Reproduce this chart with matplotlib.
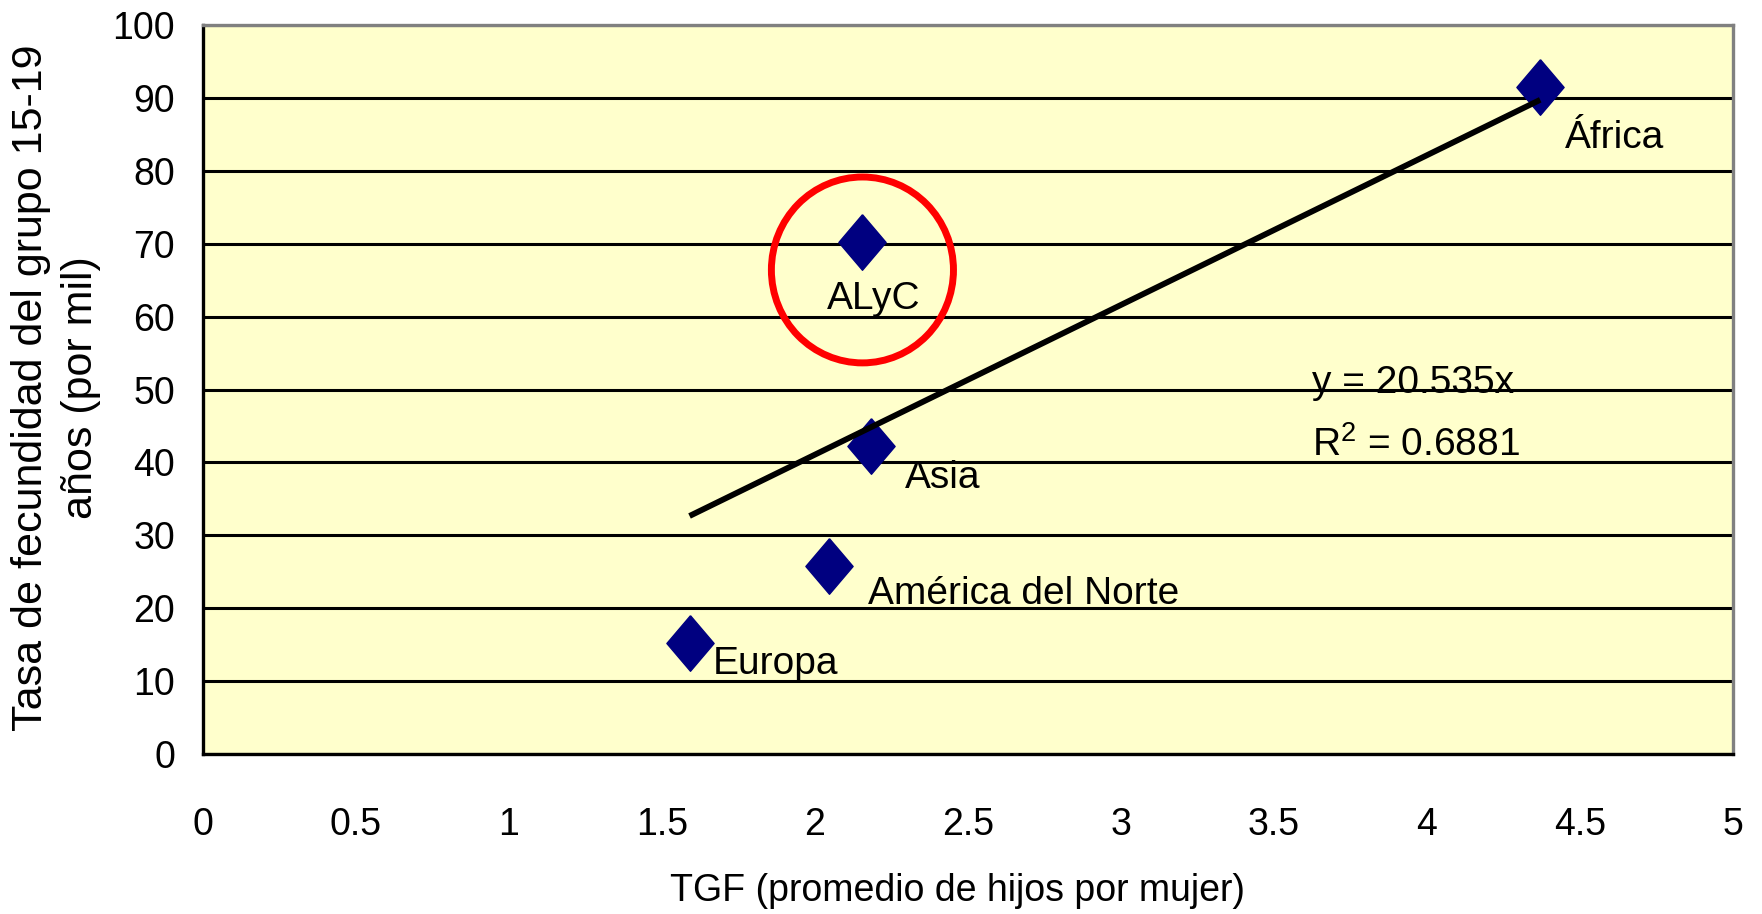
import matplotlib.pyplot as plt
from matplotlib.patches import Ellipse
import numpy as np

# datos: TGF vs tasa de fecundidad 15-19 por region
regiones = ['África', 'ALyC', 'Asia', 'América del Norte', 'Europa']
tgf = [4.37, 2.155, 2.184, 2.045, 1.59]
tasa = [91.5, 70.2, 42.2, 25.8, 15.2]
pendiente = 20.535
r2 = 0.6881
xticks = [0, 0.5, 1, 1.5, 2, 2.5, 3, 3.5, 4, 4.5, 5]
yticks = [0, 10, 20, 30, 40, 50, 60, 70, 80, 90, 100]

plt.rcParams['font.family'] = ['Liberation Sans', 'DejaVu Sans']
fs = 27

fig = plt.figure(figsize=(17.62, 9.14), dpi=100)
ax = fig.add_axes([203/1762, 1-754/914, 1530/1762, 729/914])
ax.set_facecolor('#FFFFCC')

# rombos
diamante = [(0, 1), (0.85, 0), (0, -1), (-0.85, 0), (0, 1)]
ax.plot(tgf, tasa, linestyle='none', marker=diamante, markersize=40,
        color='#000080', zorder=3)

# linea de tendencia (por el origen)
xl = np.array([min(tgf), max(tgf)])
ax.plot(xl, pendiente*xl, color='black', lw=4.2, zorder=4, solid_capstyle='butt')

# etiquetas
offs = {'África': (18, -37, 'left'), 'ALyC': (8, -41, 'center'),
        'Asia': (24, -23, 'left'), 'América del Norte': (28, -20, 'left'),
        'Europa': (17, -15, 'left')}
for n, x, y in zip(regiones, tgf, tasa):
    dx, dy, ha = offs[n]
    ax.annotate(n, (x, y), xytext=(dx, dy), textcoords='offset points',
                ha=ha, va='center', fontsize=fs+1, zorder=5)

ax.text(3.624, 50.9, 'y = %.3fx' % pendiente, fontsize=fs+1, va='center', zorder=5)
ax.text(3.624, 42.4, '$\\mathregular{R^2}$ = %.4f' % r2, fontsize=fs+1, va='center', zorder=5)

# circulo rojo alrededor de ALyC
ax.add_patch(Ellipse((2.155, 66.4), 0.595, 25.5, fill=False, edgecolor='#FF0000',
                     lw=5, zorder=6))

ax.set_xlim(0, 5)
ax.set_ylim(0, 100)
ax.set_xticks(xticks)
ax.set_xticklabels([('%g' % v) for v in xticks])
ax.set_yticks(yticks)
ax.tick_params(length=0, labelsize=fs)
ax.tick_params(axis='x', pad=38)
ax.tick_params(axis='y', pad=20)
ax.yaxis.grid(True, color='black', lw=2.2)
ax.set_axisbelow(True)
for s in ['left', 'bottom']:
    ax.spines[s].set_color('black')
    ax.spines[s].set_linewidth(2.4)
for s in ['top', 'right']:
    ax.spines[s].set_color('#808080')
    ax.spines[s].set_linewidth(2.4)

fig.text(56/1762, 1-388/914, 'Tasa de fecundidad del grupo 15-19\naños (por mil)',
         rotation=90, ha='center', va='center', multialignment='center',
         fontsize=31, linespacing=1.35)
fig.text(957/1762, 1-891/914, 'TGF (promedio de hijos por mujer)',
         ha='center', va='center', fontsize=fs)

fig.savefig('out.png', dpi=100)
